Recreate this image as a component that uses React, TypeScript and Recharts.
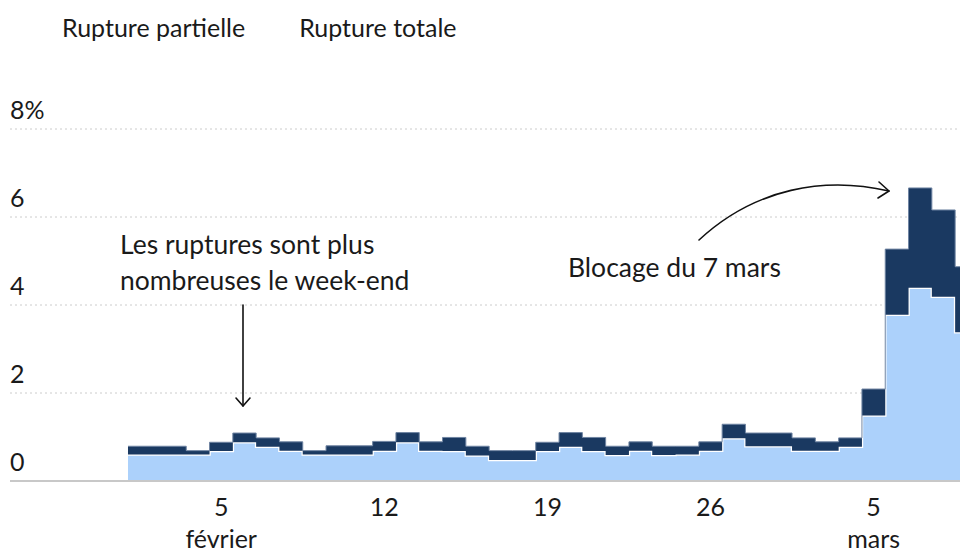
import React from 'react';
import { AreaChart, Area, XAxis, YAxis, CartesianGrid, Legend } from 'recharts';

// jours du 1er février au 9 mars
const dates = [
  '01/02', '02/02', '03/02', '04/02', '05/02', '06/02', '07/02', '08/02', '09/02', '10/02',
  '11/02', '12/02', '13/02', '14/02', '15/02', '16/02', '17/02', '18/02', '19/02', '20/02',
  '21/02', '22/02', '23/02', '24/02', '25/02', '26/02', '27/02', '28/02', '01/03', '02/03',
  '03/03', '04/03', '05/03', '06/03', '07/03', '08/03', '09/03',
];

const partielle = [
  0.60, 0.60, 0.60, 0.60, 0.68, 0.88, 0.78, 0.69, 0.60, 0.60,
  0.60, 0.69, 0.88, 0.69, 0.68, 0.58, 0.48, 0.48, 0.68, 0.78,
  0.68, 0.59, 0.69, 0.59, 0.60, 0.69, 0.97, 0.79, 0.79, 0.69,
  0.69, 0.78, 1.49, 3.78, 4.39, 4.19, 3.38,
];

const totale = [
  0.19, 0.19, 0.19, 0.09, 0.20, 0.21, 0.20, 0.20, 0.09, 0.20,
  0.20, 0.21, 0.22, 0.20, 0.31, 0.21, 0.21, 0.21, 0.20, 0.32,
  0.31, 0.20, 0.20, 0.20, 0.19, 0.20, 0.32, 0.30, 0.30, 0.29,
  0.20, 0.20, 0.60, 1.49, 2.27, 1.97, 1.49,
];

const xTicks = ['05/02', '12/02', '19/02', '26/02', '05/03'];
const xTickLabels = ['5', '12', '19', '26', '5'];
const xMonthLabels = ['février', '', '', '', 'mars'];

const yTicks = [0, 2, 4, 6, 8];
const yTickLabels = ['0', '2', '4', '6', '8%'];

const legendLabels = ['Rupture partielle', 'Rupture totale'];

const data = dates.map((d, i) => ({ i, date: d, partielle: partielle[i], totale: totale[i] }));

const FONT = 'Lato, "Noto Sans", sans-serif';
const INK = '#1a1a1a';
const LIGHT = '#acd1fb';
const DARK = '#1a3961';

const XTick = (props: any) => {
  const { x, payload } = props;
  const k = xTicks.indexOf(dates[payload.value]);
  if (k < 0) return null;
  return (
    <g>
      <text x={x} y={516} textAnchor="middle" fontSize={25} fill={INK} fontFamily={FONT}>
        {xTickLabels[k]}
      </text>
      {xMonthLabels[k] && (
        <text x={x} y={548} textAnchor="middle" fontSize={25} fill={INK} fontFamily={FONT}>
          {xMonthLabels[k]}
        </text>
      )}
    </g>
  );
};

const YTick = (props: any) => {
  const { y, payload } = props;
  const k = yTicks.indexOf(payload.value);
  return (
    <text x={10} y={y - 10} textAnchor="start" fontSize={25} fill={INK} fontFamily={FONT}>
      {yTickLabels[k]}
    </text>
  );
};

const LegendContent = () => (
  <div style={{ display: 'flex', gap: 54, fontSize: 25, color: INK, fontFamily: FONT, whiteSpace: 'nowrap' }}>
    {legendLabels.map((l) => (
      <span key={l}>{l}</span>
    ))}
  </div>
);

const tickIdx = xTicks.map((t) => dates.indexOf(t));

export default function App() {
  return (
    <div style={{ position: 'absolute', left: 0, top: 0, width: 960, height: 554, overflow: 'hidden', background: '#fff' }}>
      <AreaChart width={1000} height={554} data={data} margin={{ top: 129, right: 0, left: 0, bottom: 0 }}>
        <CartesianGrid vertical={false} stroke="#cccccc" strokeDasharray="2 3" />
        <XAxis
          dataKey="i"
          type="number"
          domain={[-5.064, 37.425]}
          allowDataOverflow
          ticks={tickIdx}
          tick={<XTick />}
          tickLine={false}
          axisLine={{ stroke: '#c8c8c8', strokeWidth: 2 }}
          height={73}
          interval={0}
        />
        <YAxis
          domain={[0, 8]}
          ticks={yTicks}
          width={10}
          axisLine={false}
          tickLine={false}
          tick={<YTick />}
          interval={0}
        />
        <Legend
          verticalAlign="middle"
          align="center"
          layout="horizontal"
          wrapperStyle={{ top: 12, left: 62, width: 600, height: 40 }}
          content={<LegendContent />}
        />
        <Area
          type="step"
          dataKey="partielle"
          stackId="a"
          fill={LIGHT}
          fillOpacity={1}
          stroke="#ffffff"
          strokeWidth={2.5}
          isAnimationActive={false}
        />
        <Area
          type="step"
          dataKey="totale"
          stackId="a"
          fill={DARK}
          fillOpacity={1}
          stroke="#6f84a2"
          strokeWidth={1}
          isAnimationActive={false}
        />
      </AreaChart>
      <svg width={960} height={554} style={{ position: 'absolute', left: 0, top: 0, pointerEvents: 'none' }}>
        <g fontFamily={FONT} fontSize={26.5} fill={INK}>
          <text x={120} y={254}>Les ruptures sont plus</text>
          <text x={120} y={290}>nombreuses le week-end</text>
          <text x={568} y={277}>Blocage du 7 mars</text>
        </g>
        <g stroke="#111" strokeWidth={1.6} fill="none" strokeLinecap="round" strokeLinejoin="round">
          <path d="M 243 305 L 243 406" />
          <path d="M 236 398 L 243 406 L 250 398" />
          <path d="M 699 240 C 755 188, 825 176, 889 191" />
          <path d="M 879 182 L 889 191 L 878 198" />
        </g>
      </svg>
    </div>
  );
}
